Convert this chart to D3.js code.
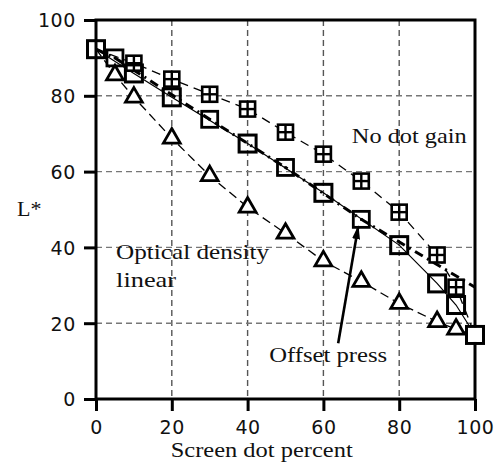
<!DOCTYPE html>
<html>
<head>
<meta charset="utf-8">
<script src="https://cdn.jsdelivr.net/npm/d3@7"></script>
<style>
  html, body { margin: 0; padding: 0; background: #fff; }
  svg { display: block; }
</style>
</head>
<body>
<svg id="chart" width="503" height="462"></svg>
<script>
// ---- data ----
const xTicks = [0, 20, 40, 60, 80, 100];
const yTicks = [0, 20, 40, 60, 80, 100];

// No dot gain (squares with cross)
const noGainX = [0, 10, 20, 30, 40, 50, 60, 70, 80, 90, 95, 100];
const noGainY = [92.3, 88.6, 84.4, 80.4, 76.5, 70.4, 64.6, 57.5, 49.3, 38.0, 29.5, 16.9];
const noGainMarkX = [10, 20, 30, 40, 50, 60, 70, 80, 90, 95];

// Optical density linear (triangles)
const odX = [0, 5, 10, 20, 30, 40, 50, 60, 70, 80, 90, 95, 100];
const odY = [92.3, 85.5, 79.6, 68.8, 58.9, 50.6, 43.7, 36.4, 31.0, 25.2, 20.4, 18.4, 16.9];
const odMarkX = [5, 10, 20, 30, 40, 50, 60, 70, 80, 90, 95];

// Offset press measured (plain squares, thin solid line)
const pressX = [0, 10, 20, 40, 60, 80, 90, 95, 100];
const pressY = [92.3, 85.9, 79.6, 67.4, 54.4, 40.6, 30.5, 24.8, 16.9];

// Model (squares with centre dot, thick dash-dot line)
const modelX = [0, 5, 30, 50, 70, 100];
const modelY = [92.3, 90.0, 73.8, 61.1, 47.4, 29.5];
const modelMarkX = [5, 30, 50, 70];

// annotations (data coordinates)
const labels = [
  { text: "No dot gain", x: 67.5, y: 67.5, w: 115 },
  { text: "Optical density", x: 5.3, y: 36.9, w: 153 },
  { text: "linear", x: 5.3, y: 29.5, w: 60 },
  { text: "Offset press", x: 45.7, y: 9.8, w: 118 }
];
const arrow = { x1: 63.9, y1: 14.7, x2: 69.2, y2: 45.6 };

// ---- layout ----
const svg = d3.select("#chart");
const x = d3.scaleLinear().domain([0, 100]).range([96, 475]);
const y = d3.scaleLinear().domain([0, 100]).range([399, 20]);

const zip = (xs, ys) => xs.map((v, i) => [v, ys[i]]);
const lookup = (xs, ys, v) => ys[xs.indexOf(v)];
const serif = "'Liberation Serif', 'Times New Roman', Times, serif";

// grid
const g = svg.append("g");
g.selectAll("line.gv").data([20, 40, 60, 80]).enter().append("line")
  .attr("x1", d => x(d)).attr("x2", d => x(d))
  .attr("y1", y(100)).attr("y2", y(0))
  .attr("stroke", "#555").attr("stroke-width", 1.4).attr("stroke-dasharray", "6,4");
g.selectAll("line.gh").data([20, 40, 60, 80]).enter().append("line")
  .attr("y1", d => y(d)).attr("y2", d => y(d))
  .attr("x1", x(0)).attr("x2", x(100))
  .attr("stroke", "#777").attr("stroke-width", 1.4).attr("stroke-dasharray", "6,4");

// axes
const axB = d3.axisBottom(x).tickValues(xTicks).tickSize(12).tickPadding(10);
const axL = d3.axisLeft(y).tickValues(yTicks).tickSize(12).tickPadding(8);
const gb = svg.append("g").attr("transform", `translate(0,${y(0)})`).call(axB);
const gl = svg.append("g").attr("transform", `translate(${x(0)},0)`).call(axL);
[gb, gl].forEach(a => {
  a.select(".domain").remove();
  a.selectAll(".tick line").attr("stroke", "#000").attr("stroke-width", 3);
  a.selectAll(".tick text")
    .attr("fill", "#111")
    .style("font-family", "'DejaVu Sans', sans-serif")
    .style("font-size", "19px")
    .style("letter-spacing", "0.6px");
});
gb.selectAll(".tick text").attr("dy", "0.71em");
gl.selectAll(".tick text").attr("dy", "0.36em");

// frame
svg.append("rect")
  .attr("x", x(0)).attr("y", y(100))
  .attr("width", x(100) - x(0)).attr("height", y(0) - y(100))
  .attr("fill", "none").attr("stroke", "#000").attr("stroke-width", 3);

// lines
const line = d3.line().x(d => x(d[0])).y(d => y(d[1]));
svg.append("path").datum(zip(noGainX, noGainY)).attr("d", line)
  .attr("fill", "none").attr("stroke", "#000").attr("stroke-width", 1.3).attr("stroke-dasharray", "9,6");
svg.append("path").datum(zip(odX, odY)).attr("d", line)
  .attr("fill", "none").attr("stroke", "#000").attr("stroke-width", 1.3).attr("stroke-dasharray", "9,5");
svg.append("path").datum(zip(pressX, pressY)).attr("d", line)
  .attr("fill", "none").attr("stroke", "#000").attr("stroke-width", 1.2);
svg.append("path").datum(zip(modelX, modelY)).attr("d", line)
  .attr("fill", "none").attr("stroke", "#000").attr("stroke-width", 3).attr("stroke-dasharray", "9,5,2,5");

// markers
const S = 17;
// triangles
const tri = d3.symbol().type(d3.symbolTriangle).size(122);
svg.selectAll("path.tri").data(odMarkX).enter().append("path")
  .attr("d", tri)
  .attr("transform", d => `translate(${x(d)},${y(lookup(odX, odY, d))})`)
  .attr("fill", "#fff").attr("stroke", "#000").attr("stroke-width", 2.8);

// crossed squares
const cs = svg.selectAll("g.cs").data(noGainMarkX).enter().append("g")
  .attr("transform", d => `translate(${x(d)},${y(lookup(noGainX, noGainY, d))})`);
cs.append("rect").attr("x", -S / 2 + 1).attr("y", -S / 2 + 1).attr("width", S - 2).attr("height", S - 2)
  .attr("fill", "#fff").attr("stroke", "#000").attr("stroke-width", 2.6);
cs.append("line").attr("x1", 0).attr("x2", 0).attr("y1", -S / 2 + 1).attr("y2", S / 2 - 1)
  .attr("stroke", "#000").attr("stroke-width", 2.4);
cs.append("line").attr("y1", 0).attr("y2", 0).attr("x1", -S / 2 + 1).attr("x2", S / 2 - 1)
  .attr("stroke", "#000").attr("stroke-width", 2.4);

// plain squares
svg.selectAll("rect.ps").data(pressX).enter().append("rect")
  .attr("x", d => x(d) - S / 2).attr("y", (d, i) => y(pressY[i]) - S / 2)
  .attr("width", S).attr("height", S)
  .attr("fill", "none").attr("stroke", "#000").attr("stroke-width", 3);
// white fill only at the last point (sits on top of the other lines)
svg.selectAll("rect.ps2").data([100]).enter().append("rect")
  .attr("x", d => x(d) - S / 2 + 1.5).attr("y", d => y(lookup(pressX, pressY, d)) - S / 2 + 1.5)
  .attr("width", S - 3).attr("height", S - 3).attr("fill", "#fff");

// dotted squares
const ds = svg.selectAll("g.ds").data(modelMarkX).enter().append("g")
  .attr("transform", d => `translate(${x(d)},${y(lookup(modelX, modelY, d))})`);
ds.append("rect").attr("x", -8).attr("y", -8).attr("width", 16).attr("height", 16)
  .attr("fill", "none").attr("stroke", "#000").attr("stroke-width", 2.8);
ds.append("rect").attr("x", -1.3).attr("y", -1.3).attr("width", 2.6).attr("height", 2.6).attr("fill", "#000");

// annotation texts
svg.selectAll("text.lab").data(labels).enter().append("text")
  .attr("x", d => x(d.x)).attr("y", d => y(d.y))
  .attr("textLength", d => d.w).attr("lengthAdjust", "spacingAndGlyphs")
  .style("font-family", serif)
  .style("font-size", "22px").attr("fill", "#111")
  .text(d => d.text);

// arrow
svg.append("defs").append("marker")
  .attr("id", "ah").attr("viewBox", "0 0 14 8").attr("refX", 13).attr("refY", 4)
  .attr("markerWidth", 14).attr("markerHeight", 8).attr("markerUnits", "userSpaceOnUse")
  .attr("orient", "auto")
  .append("path").attr("d", "M0,0 L14,4 L0,8 Z").attr("fill", "#000");
svg.append("line")
  .attr("x1", x(arrow.x1)).attr("y1", y(arrow.y1))
  .attr("x2", x(arrow.x2)).attr("y2", y(arrow.y2))
  .attr("stroke", "#000").attr("stroke-width", 2.6).attr("marker-end", "url(#ah)");

// axis titles
svg.append("text").attr("x", 170.7).attr("y", 457)
  .attr("textLength", 182).attr("lengthAdjust", "spacingAndGlyphs")
  .style("font-family", serif)
  .style("font-size", "22px").attr("fill", "#111")
  .text("Screen dot percent");
svg.append("text").attr("x", 17).attr("y", 216)
  .style("font-family", serif)
  .style("font-size", "22px").attr("fill", "#111")
  .text("L*");
</script>
</body>
</html>
